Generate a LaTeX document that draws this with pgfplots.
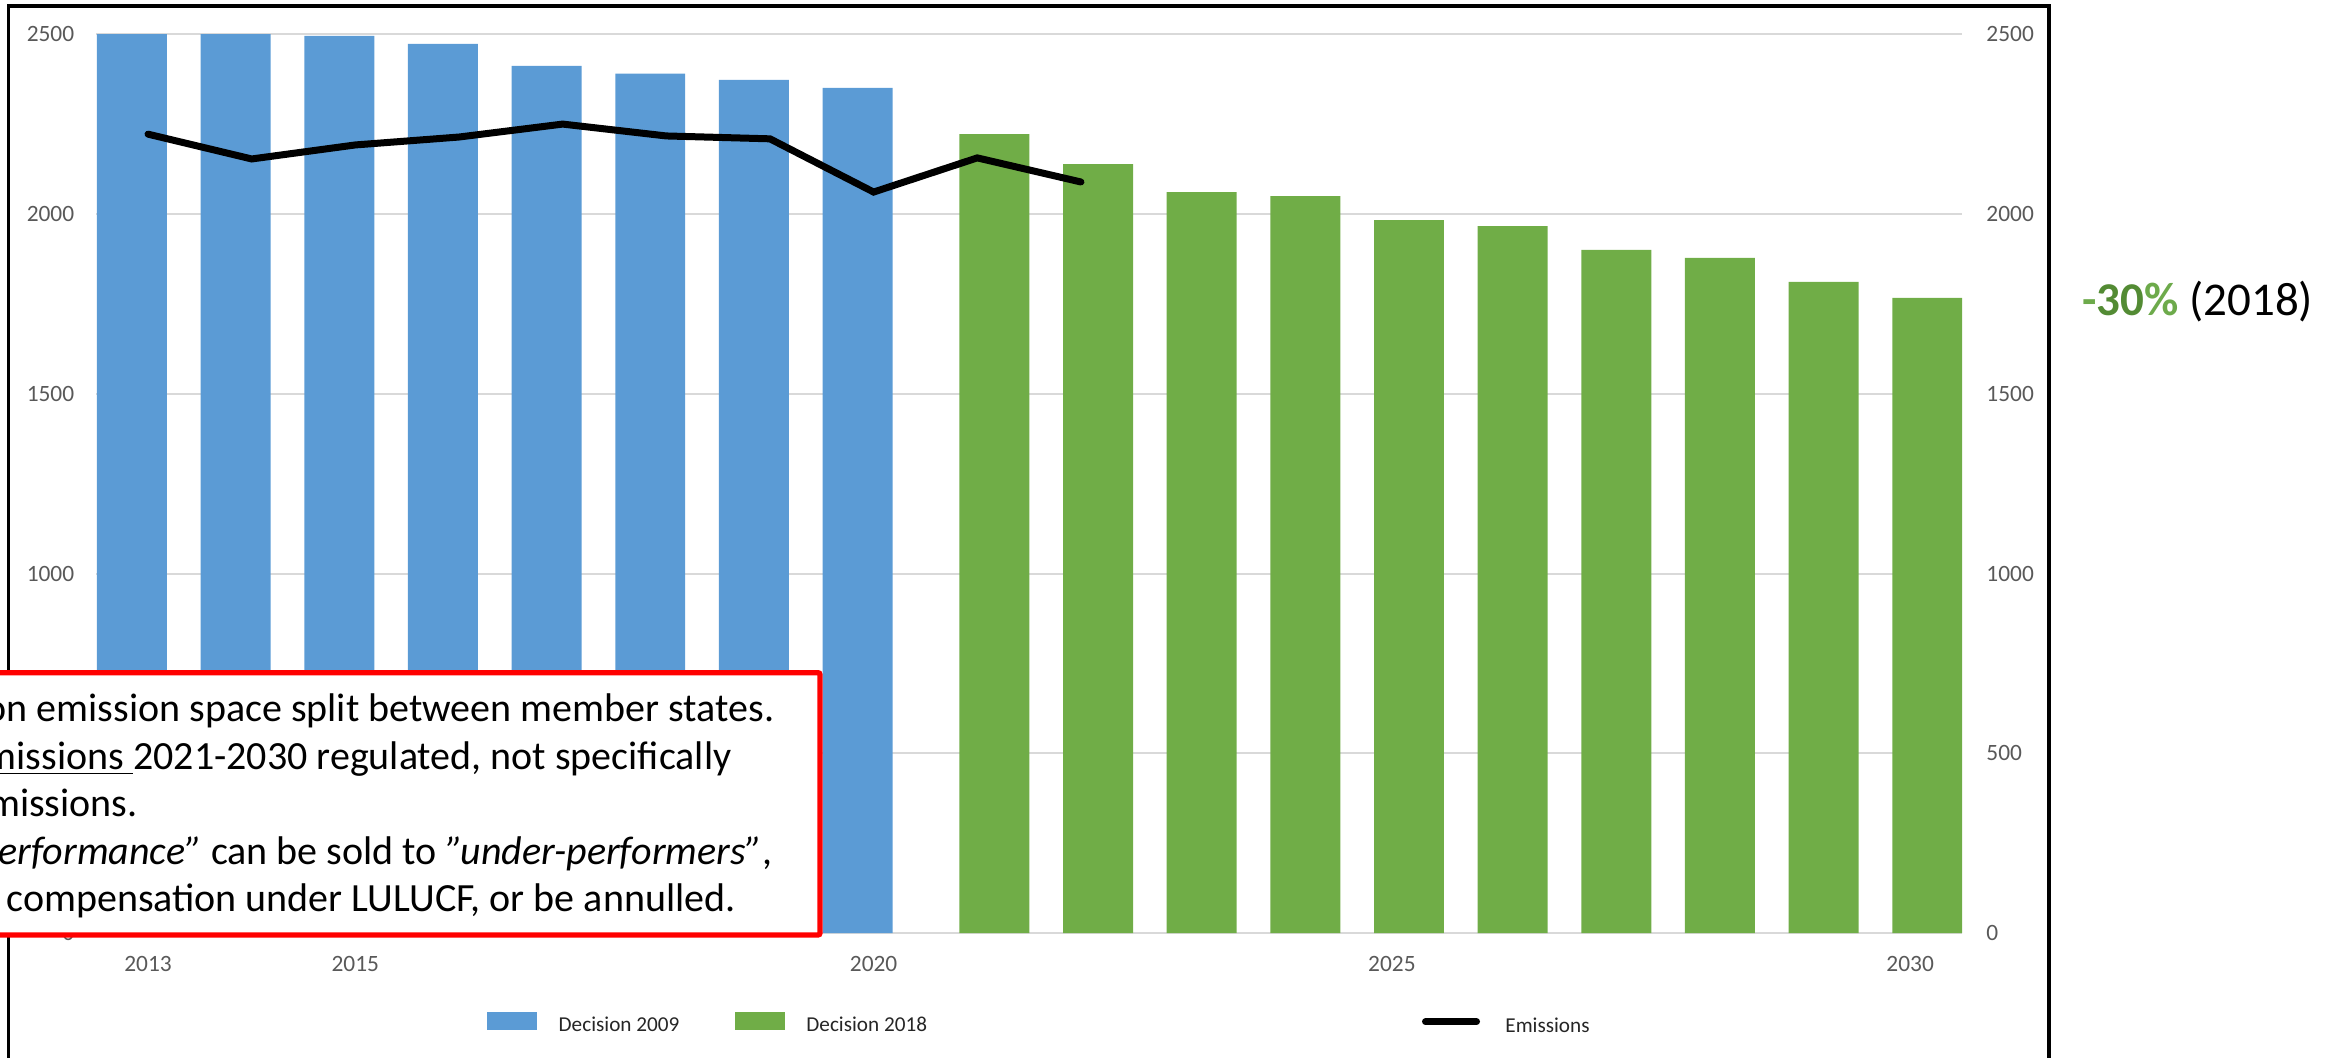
\documentclass[border=0pt]{standalone}
\usepackage{fontspec}
\setmainfont{Carlito}
\usepackage{pgfplots}
\pgfplotsset{compat=1.18}
\definecolor{barblue}{HTML}{5B9BD5}
\definecolor{bargreen}{HTML}{70AD47}
\definecolor{gridgray}{HTML}{D9D9D9}
\definecolor{ticklab}{HTML}{595959}
\definecolor{pctdark}{HTML}{538B34}
\definecolor{pctlight}{HTML}{6DAA4B}
\newcommand{\tickfont}{\fontsize{11.7pt}{14pt}\selectfont}
\newcommand{\legfont}{\fontsize{10.6pt}{12.7pt}\selectfont}
\newcommand{\boxfont}{\fontsize{20pt}{24pt}\selectfont}
\begin{document}
\begin{tikzpicture}
% outer frame
\draw[line width=1.75pt] (4.15pt,-6pt) -- (4.15pt,526pt) -- (1024.5pt,526pt) -- (1024.5pt,-6pt);
\begin{axis}[
  at={(48.1pt,62.4pt)}, anchor=south west,
  width=932.9pt, height=449.5pt, scale only axis,
  xmin=2012.5, xmax=2030.5, ymin=0, ymax=2500,
  axis line style={draw=none},
  major tick length=0pt,
  ytick={0,500,1000,1500,2000,2500},
  yticklabels={0,500,1000,1500,2000,2500},
  xtick={2013,2015,2020,2025,2030},
  xticklabels={2013,2015,2020,2025,2030},
  ymajorgrids,
  major grid style={draw=gridgray, line width=1pt},
  yticklabel style={anchor=east, inner sep=0pt, xshift=-10.8pt, text=ticklab, font=\tickfont},
  xticklabel style={anchor=base, inner sep=0pt, yshift=-19.25pt, text=ticklab, font=\tickfont},
]
\addplot[ybar, bar width=0.675, bar shift=-0.155, fill=barblue, draw=none] coordinates {
 (2013,2500) (2014,2500) (2015,2495) (2016,2473) (2017,2412) (2018,2390) (2019,2373) (2020,2351)
};
\addplot[ybar, bar width=0.675, bar shift=0.165, fill=bargreen, draw=none] coordinates {
 (2021,2222) (2022,2139) (2023,2061) (2024,2050) (2025,1983) (2026,1966) (2027,1900) (2028,1878) (2029,1811) (2030,1767)
};
\addplot[black, line width=3.5pt, line cap=round, line join=miter, mark=none] coordinates {
 (2013,2222) (2014,2153) (2015,2192) (2016,2214) (2017,2250) (2018,2217) (2019,2209) (2020,2061) (2021,2156) (2022,2089)
};
\end{axis}
\begin{axis}[
  at={(48.1pt,62.4pt)}, anchor=south west,
  width=932.9pt, height=449.5pt, scale only axis,
  xmin=2012.5, xmax=2030.5, ymin=0, ymax=2500,
  hide x axis,
  axis line style={draw=none},
  major tick length=0pt,
  ytick={0,500,1000,1500,2000,2500},
  yticklabels={0,500,1000,1500,2000,2500},
  yticklabel pos=right,
  yticklabel style={anchor=west, inner sep=0pt, xshift=12pt, text=ticklab, font=\tickfont},
]
\end{axis}
% annotation box
\draw[red, line width=2.65pt, fill=white, rounded corners=1pt] (-10pt,61.5pt) rectangle (410pt,192.65pt);
\begin{scope}[every node/.style={inner sep=0pt, anchor=base east, font=\boxfont}]
\node at (387.3pt,168.15pt) {Total common emission space split between member states.};
\node at (365.85pt,144pt) {Total \underline{emissions }2021-2030 regulated, not specifically};
\node at (69pt,120.65pt) {annual emissions.};
\node at (386.5pt,96.5pt) {\textit{”Over-performance”} can be sold to \textit{”under-performers”},};
\node at (368pt,73.15pt) {be used for compensation under LULUCF, or be annulled.};
\end{scope}
% side note
\node[anchor=base west, inner sep=0pt, font=\fontsize{23.5pt}{28pt}\selectfont] at (1041pt,371pt) {\textbf{\textcolor{pctlight}{-}\textcolor{pctdark}{30}\textcolor{pctlight}{\%}} (2018)};
% legend
\fill[barblue] (243.65pt,14.15pt) rectangle (268.35pt,22.85pt);
\node[anchor=base west, inner sep=0pt, font=\legfont, text=black!85] at (279.15pt,13pt) {Decision 2009};
\fill[bargreen] (367.5pt,14.15pt) rectangle (392.5pt,22.85pt);
\node[anchor=base west, inner sep=0pt, font=\legfont, text=black!85] at (403pt,13pt) {Decision 2018};
\draw[black, line width=3.5pt, line cap=round] (712.75pt,18.15pt) -- (738.25pt,18.15pt);
\node[anchor=base west, inner sep=0pt, font=\legfont, text=black!85] at (752.5pt,12.65pt) {Emissions};
\pgfresetboundingbox
\useasboundingbox (0,0) rectangle (1162.5pt,529pt);
\end{tikzpicture}
\end{document}
